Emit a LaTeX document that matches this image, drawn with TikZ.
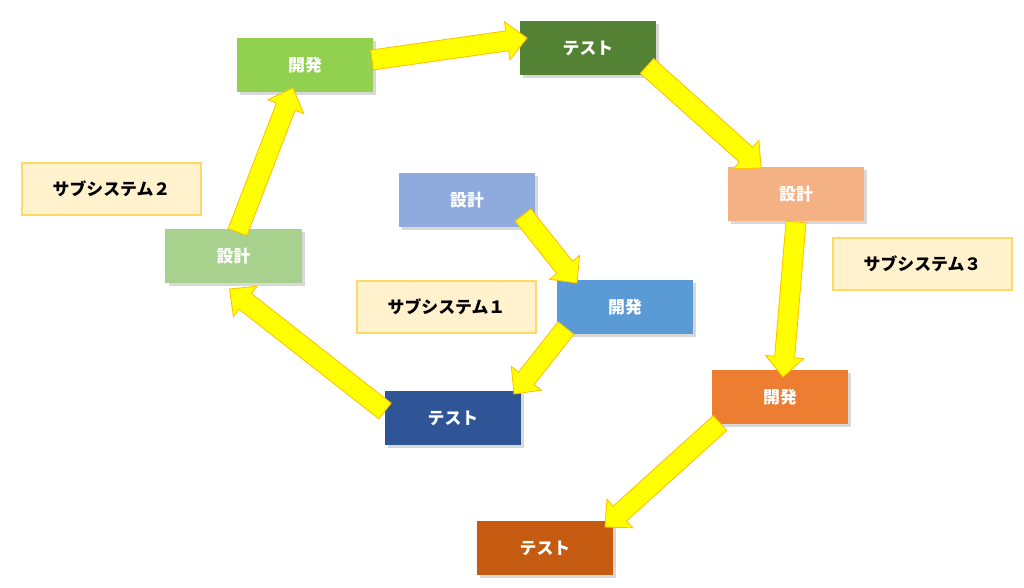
\documentclass[tikz,border=0pt]{standalone}
\usepackage{fontspec}
\setmainfont{Noto Sans CJK JP}
\usepackage{tikz}
\usetikzlibrary{calc,positioning,shadows}
\definecolor{kaihatsuB}{HTML}{92D050}
\definecolor{testB}{HTML}{548235}
\definecolor{sekkeiB}{HTML}{A9D18E}
\definecolor{sekkeiA}{HTML}{8FAADC}
\definecolor{kaihatsuA}{HTML}{5B9BD5}
\definecolor{testA}{HTML}{2F5597}
\definecolor{sekkeiC}{HTML}{F4B183}
\definecolor{kaihatsuC}{HTML}{ED7D31}
\definecolor{testC}{HTML}{C55A11}
\definecolor{labelfill}{HTML}{FFF2CC}
\definecolor{labelline}{HTML}{FFD966}
\definecolor{arrowfill}{HTML}{FFFF00}
\definecolor{arrowline}{HTML}{FFC000}
\tikzset{
  phase/.style={minimum width=3.4cm,minimum height=1.35cm,inner sep=0pt,text=white,
    font=\fontsize{12pt}{14pt}\selectfont\bfseries,
    drop shadow={shadow xshift=0.08cm,shadow yshift=-0.08cm,opacity=0.3}},
  subsys/.style={fill=labelfill,draw=labelline,line width=0.8pt,minimum width=4.475cm,
    minimum height=1.3cm,inner sep=0pt,font=\fontsize{12pt}{14pt}\selectfont\bfseries},
  yellowarrow/.style={fill=arrowfill,draw=arrowline,line width=0.6pt,line join=miter}
}
\newcommand\yarrow[2]{%
  \path (#1) coordinate (ya) (#2) coordinate (yb);
  \coordinate (yh) at ($(yb)!0.5cm!(ya)$);
  \filldraw[yellowarrow] ($(ya)!0.25cm!90:(yb)$) -- ($(yh)!0.25cm!90:(yb)$) -- ($(yh)!0.48cm!90:(yb)$)
    -- (yb) -- ($(yh)!0.48cm!-90:(yb)$) -- ($(yh)!0.25cm!-90:(yb)$) -- ($(ya)!0.25cm!-90:(yb)$) -- cycle;
}
\begin{document}
\begin{tikzpicture}[x=0.025cm,y=-0.025cm]
\useasboundingbox[fill=white] (0,0) rectangle (1024,587);
% subsystem 1
\node[phase,fill=sekkeiA] (d1) at (467,200) {設計};
\node[phase,fill=kaihatsuA] (k1) at (625,307) {開発};
\node[phase,fill=testA] (t1) at (453,418) {テスト};
\node[subsys] (l1) at (446.5,307) {サブシステム１};
% subsystem 2
\node[phase,fill=sekkeiB] (d2) at (233.5,256) {設計};
\node[phase,fill=kaihatsuB] (k2) at (305,65) {開発};
\node[phase,fill=testB] (t2) at (588,48) {テスト};
\node[subsys] (l2) at (111.5,189) {サブシステム２};
% subsystem 3
\node[phase,fill=sekkeiC] (d3) at (796,194) {設計};
\node[phase,fill=kaihatsuC] (k3) at (780,397) {開発};
\node[phase,fill=testC] (t3) at (545,548) {テスト};
\node[subsys] (l3) at (922.5,264) {サブシステム３};
% arrows
\yarrow{[shift={(56,15)}]d1.center}{[shift={(-48,-24)}]k1.center}
\yarrow{[shift={(-59,21)}]k1.center}{[shift={(61,-24)}]t1.center}
\yarrow{[shift={(-68,-7)}]t1.center}{[shift={(-4,33)}]d2.center}
\yarrow{[shift={(4,-24)}]d2.center}{[shift={(-12,23)}]k2.center}
\yarrow{[shift={(67,-5)}]k2.center}{[shift={(-61,-10)}]t2.center}
\yarrow{[shift={(59,18)}]t2.center}{[shift={(-35,-26)}]d3.center}
\yarrow{[shift={(0,28)}]d3.center}{[shift={(3,-20)}]k3.center}
\yarrow{[shift={(-60,26)}]k3.center}{[shift={(60,-21)}]t3.center}
\end{tikzpicture}
\end{document}
